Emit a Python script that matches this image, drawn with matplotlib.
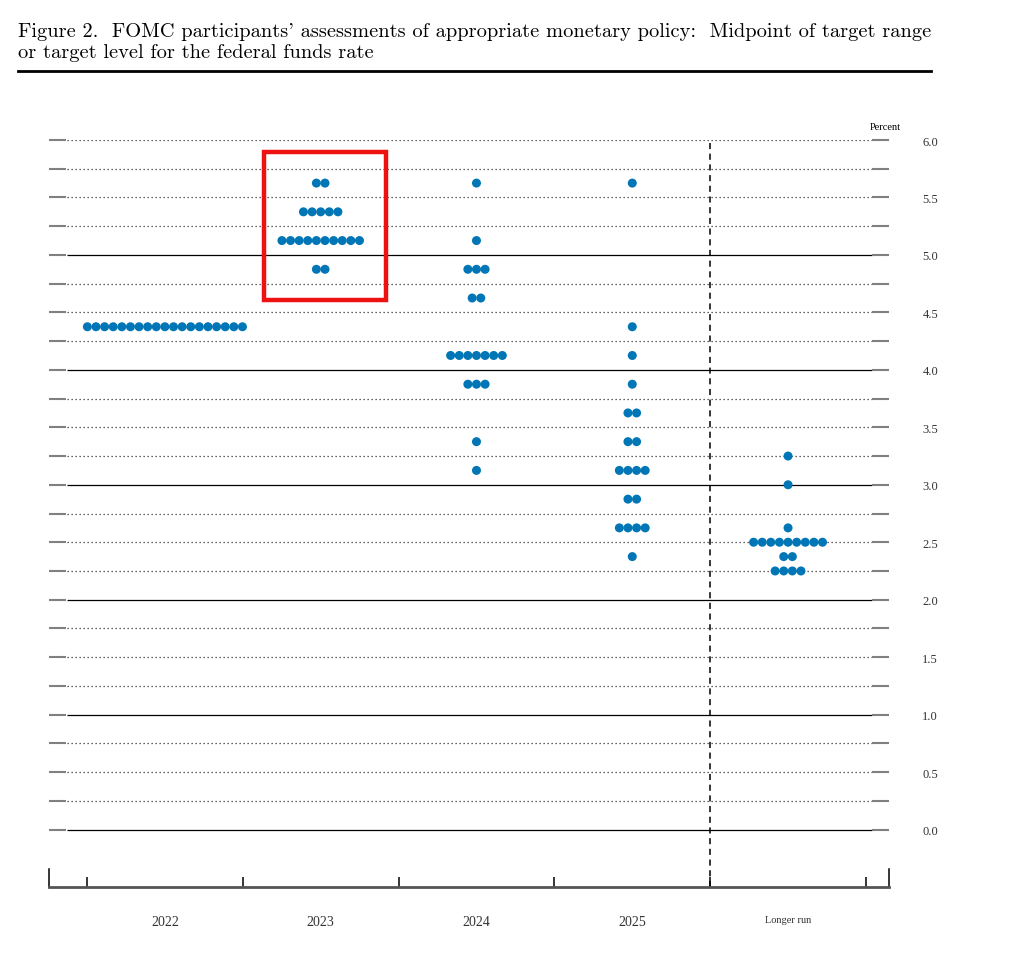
"""FOMC dot plot (Figure 2): midpoint of target range for the federal funds rate."""

import matplotlib

matplotlib.use("Agg")
import matplotlib.pyplot as plt
from matplotlib.lines import Line2D
from matplotlib.patches import Rectangle

# Data: one list of levels and matching participant counts per column
COLUMNS = ["2022", "2023", "2024", "2025", "Longer run"]

LEVELS_2022 = [4.375]
COUNTS_2022 = [19]

LEVELS_2023 = [5.625, 5.375, 5.125, 4.875]
COUNTS_2023 = [2, 5, 10, 2]

LEVELS_2024 = [5.625, 5.125, 4.875, 4.625, 4.125, 3.875, 3.375, 3.125]
COUNTS_2024 = [1, 1, 3, 2, 7, 3, 1, 1]

LEVELS_2025 = [5.625, 4.375, 4.125, 3.875, 3.625, 3.375, 3.125, 2.875, 2.625, 2.375]
COUNTS_2025 = [1, 1, 1, 1, 2, 2, 4, 2, 4, 1]

LEVELS_LR = [3.25, 3.0, 2.625, 2.5, 2.375, 2.25]
COUNTS_LR = [1, 1, 1, 9, 2, 4]

DOT_COLOR = "#0076B6"
TITLE = ("Figure 2.  FOMC participants' assessments of appropriate monetary policy:  "
         "Midpoint of target range\nor target level for the federal funds rate")

W, H = 1024, 954
DOT_STEP = 0.0553


def main() -> None:
    fig = plt.figure(figsize=(W / 100, H / 100), dpi=100)
    ax = fig.add_axes([49 / W, 1 - 888 / H, 840 / W, (888 - 141) / H])

    ax.set_xlim(0.256, 5.648)
    ax.set_ylim(-0.5, 6.0)

    # horizontal reference lines: solid at whole percents 0-5, dotted elsewhere
    for i in range(25):
        level = i * 0.25
        if i % 4 == 0 and level < 6:
            ax.hlines(level, 0.37, 5.54, colors="black", linewidth=0.9, zorder=1)
        else:
            ax.hlines(level, 0.37, 5.54, colors="#333333", linewidth=0.9,
                      linestyles=(0, (1, 2.2)), zorder=1)

    # dashed separator before the longer run
    ax.vlines(4.5, -0.5, 6.0, colors="black", linewidth=1.1,
              linestyles=(0, (4, 3)), zorder=1)

    groups = [
        (LEVELS_2022, COUNTS_2022),
        (LEVELS_2023, COUNTS_2023),
        (LEVELS_2024, COUNTS_2024),
        (LEVELS_2025, COUNTS_2025),
        (LEVELS_LR, COUNTS_LR),
    ]
    for col, (levels, counts) in enumerate(groups, start=1):
        xs, ys = [], []
        for level, n in zip(levels, counts):
            for k in range(n):
                xs.append(col + (k - (n - 1) / 2) * DOT_STEP)
                ys.append(level)
        ax.scatter(xs, ys, s=42, color=DOT_COLOR, edgecolors="none",
                   zorder=3, clip_on=False)

    # y ticks: stubs on both sides, labels on the right every 0.5
    yt = [i * 0.25 for i in range(25)]
    ax.set_yticks(yt)
    ax.set_yticklabels([f"{v:.1f}" if i % 2 == 0 else "" for i, v in enumerate(yt)])
    ax.tick_params(axis="y", direction="in", length=12.5, width=1.5, color="#808080",
                   left=True, right=True, labelleft=False, labelright=True,
                   pad=24, labelsize=9, labelcolor="#333333")
    for lab in ax.get_yticklabels():
        lab.set_fontfamily("Liberation Serif")

    # x ticks: boundaries as major, column names as minor labels
    ax.set_xticks([0.5, 1.5, 2.5, 3.5, 4.5, 5.5])
    ax.set_xticklabels([])
    ax.tick_params(axis="x", which="major", direction="in", length=7.5, width=1.1,
                   color="black")
    ax.set_xticks([1, 2, 3, 4, 5], minor=True)
    ax.set_xticklabels(COLUMNS, minor=True)
    ax.tick_params(axis="x", which="minor", length=0, pad=20, labelsize=10,
                   labelcolor="#333333")
    for lab in ax.get_xticklabels(minor=True):
        lab.set_fontfamily("Liberation Serif")
    ax.get_xticklabels(minor=True)[-1].set_fontsize(7.5)

    ax.spines["top"].set_visible(False)
    ax.spines["bottom"].set_linewidth(2.0)
    ax.spines["bottom"].set_color("#555555")
    for side in ("left", "right"):
        ax.spines[side].set_bounds(-0.5, -0.34)
        ax.spines[side].set_linewidth(1.1)
        ax.spines[side].set_color("black")

    # highlight box around 2023
    ax.add_patch(Rectangle((1.636, 4.609), 0.783, 1.287, fill=False,
                           edgecolor="#EE1111", linewidth=3.2, zorder=4,
                           clip_on=False))

    fig.text(885 / W, 1 - 128 / H, "Percent", ha="center", va="center",
             fontsize=7.5, family="Liberation Serif")

    fig.text(18 / W, 1 - 23 / H, TITLE, ha="left", va="top", fontsize=14.7,
             family="cmr10", linespacing=1.22)
    fig.add_artist(Line2D([18 / W, 931 / W], [1 - 72 / H, 1 - 72 / H],
                          color="black", linewidth=2.0))

    fig.savefig("out.png", dpi=100, facecolor="white")
    plt.close(fig)


if __name__ == "__main__":
    main()
